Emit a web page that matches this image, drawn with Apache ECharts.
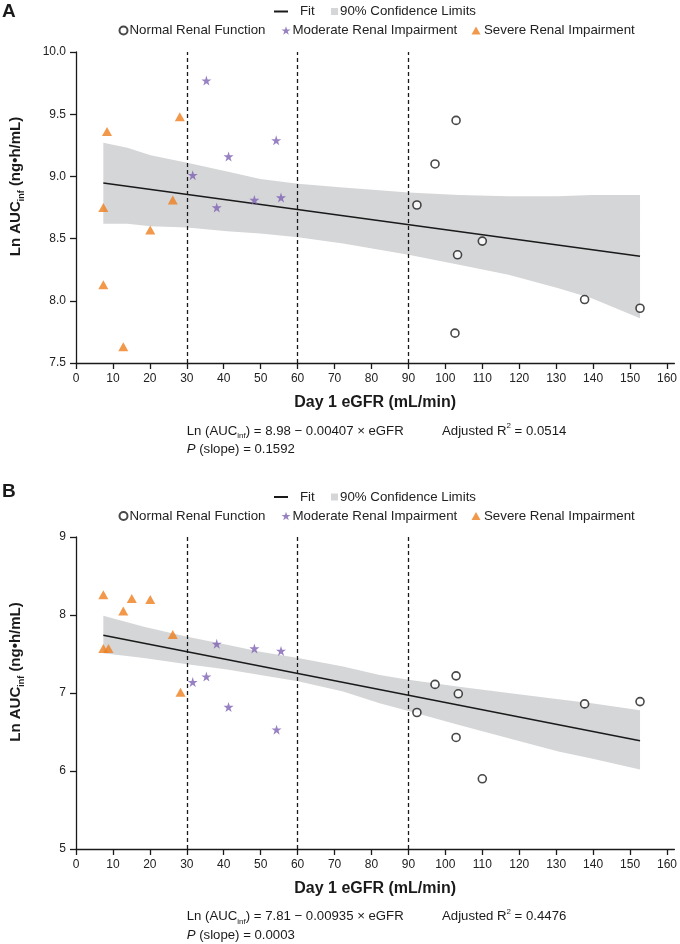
<!DOCTYPE html>
<html><head><meta charset="utf-8">
<script src="https://cdn.jsdelivr.net/npm/echarts@6/dist/echarts.min.js"></script>
<style>html,body{margin:0;padding:0;background:#fff}#c{width:680px;height:944px}</style>
</head><body><div id="c"></div>
<script>
// ---------- tick labels / reference lines ----------
const xTicks = [0,10,20,30,40,50,60,70,80,90,100,110,120,130,140,150,160];
const yTicksA = [7.5,8.0,8.5,9.0,9.5,10.0];
const yTicksB = [5,6,7,8,9];
const refLines = [30,60,90];

// ---------- Panel A data ----------
const normalA   = [[102.9,9.45],[97.2,9.10],[92.3,8.77],[110.0,8.48],[103.3,8.37],[137.7,8.01],[152.7,7.94],[102.6,7.74]];
const moderateA = [[35.3,9.77],[31.6,9.01],[38.1,8.75],[41.3,9.16],[48.3,8.81],[54.2,9.29],[55.5,8.83]];
const severeA   = [[7.4,8.75],[8.4,9.36],[7.4,8.13],[12.8,7.63],[20.1,8.57],[26.2,8.81],[28.1,9.48]];
const fitA      = [[7.4,8.947],[152.7,8.358]];
const ciXA      = [7.4,13.9,20.2,30.1,40.9,49.9,60.1,72.3,90,103.7,117.1,130.6,139.6,152.7];
const ciUpperA  = [9.27,9.23,9.17,9.11,9.04,8.98,8.94,8.91,8.87,8.85,8.84,8.84,8.85,8.85];
const ciLowerA  = [8.62,8.62,8.60,8.59,8.56,8.54,8.51,8.46,8.37,8.29,8.21,8.10,8.02,7.86];

// ---------- Panel B data ----------
const normalB   = [[102.9,7.22],[97.2,7.11],[103.5,6.99],[92.3,6.75],[137.7,6.86],[152.7,6.89],[102.9,6.43],[110.0,5.90]];
const moderateB = [[31.6,7.14],[35.3,7.21],[38.1,7.63],[41.3,6.82],[48.3,7.57],[54.3,6.53],[55.5,7.54]];
const severeB   = [[7.4,8.26],[7.4,7.57],[8.8,7.57],[12.8,8.05],[15.1,8.21],[20.1,8.20],[26.2,7.75],[28.3,7.01]];
const fitB      = [[7.4,7.741],[152.7,6.388]];
const ciXB      = [7.4,18.4,30.1,40.9,49.9,60.1,72.3,82.2,90,103.7,117.1,130.6,139.6,152.7];
const ciUpperB  = [7.99,7.85,7.72,7.62,7.53,7.45,7.34,7.23,7.17,7.08,7.00,6.92,6.87,6.78];
const ciLowerB  = [7.51,7.45,7.37,7.30,7.23,7.15,7.02,6.87,6.77,6.59,6.42,6.25,6.16,6.02];

// ---------- texts ----------
const eqA  = '{n|Ln (AUC}{s|inf}{n|) = 8.98 − 0.00407 × eGFR}';
const r2A  = '{n|Adjusted R}{p|2}{n| = 0.0514}';
const pA   = '{i|P}{n| (slope) = 0.1592}';
const eqB  = '{n|Ln (AUC}{s|inf}{n|) = 7.81 − 0.00935 × eGFR}';
const r2B  = '{n|Adjusted R}{p|2}{n| = 0.4476}';
const pB   = '{i|P}{n| (slope) = 0.0003}';
const xTitle = 'Day 1 eGFR (mL/min)';
const yTitle = '{b|Ln AUC}{s|inf}{b| (ng•h/mL)}';

const FF = 'Liberation Sans, Arial, Helvetica, sans-serif';
const INK = '#1a1a1a';
const BAND = '#D5D6D8';
const PURPLE = '#7D62B3';
const ORANGE = '#EE7E1E';
const STAR = 'path://M50,0 L61.2,34.5 L97.6,34.5 L68.2,55.9 L79.4,90.5 L50,69.1 L20.6,90.5 L31.8,55.9 L2.4,34.5 L38.8,34.5 Z';

const chart = echarts.init(document.getElementById('c'), null, {renderer:'canvas'});

function xAxisCfg(gi){
  return {
    gridIndex: gi, type:'value', min:0, max:162, interval:10,
    axisLine:{show:true, onZero:false, lineStyle:{color:INK, width:1.3}},
    axisTick:{show:true, length:6, customValues:xTicks, lineStyle:{color:INK, width:1.3}},
    axisLabel:{customValues:xTicks, margin:10, fontSize:12, color:'#222', fontFamily:FF},
    splitLine:{show:false},
    name:xTitle, nameLocation:'middle', nameGap:32,
    nameTextStyle:{fontSize:16, fontWeight:'bold', color:INK, fontFamily:FF}
  };
}
function yAxisCfg(gi, min, max, interval, ticks, dec){
  return {
    gridIndex: gi, type:'value', min:min, max:max, interval:interval,
    axisLine:{show:true, onZero:false, lineStyle:{color:INK, width:1.3}},
    axisTick:{show:true, length:6, customValues:ticks, lineStyle:{color:INK, width:1.3}},
    axisLabel:{customValues:ticks, margin:10, fontSize:12, color:'#222', fontFamily:FF,
               formatter: v => v.toFixed(dec)},
    splitLine:{show:false},
    name:yTitle, nameLocation:'middle', nameGap:50,
    nameTextStyle:{padding:[0,0,0,42],
      rich:{
        b:{fontSize:15, fontWeight:'bold', color:INK, fontFamily:FF, lineHeight:20},
        s:{fontSize:9, fontWeight:'bold', color:INK, fontFamily:FF, lineHeight:9, verticalAlign:'bottom'}
      }}
  };
}
function bandSeries(gi, xs, up, lo){
  return {
    type:'custom', name:'90% Confidence Limits', xAxisIndex:gi, yAxisIndex:gi, z:1, silent:true,
    itemStyle:{color:BAND},
    data: xs.map((x,i)=>[x, up[i], lo[i]]),
    encode:{x:0, y:[1,2]},
    renderItem:(params, api)=>{
      if (params.dataIndex !== 0) return null;
      const pts = [];
      for (let i=0;i<xs.length;i++) pts.push(api.coord([xs[i], up[i]]));
      for (let i=xs.length-1;i>=0;i--) pts.push(api.coord([xs[i], lo[i]]));
      return {type:'polygon', shape:{points:pts}, style:{fill:BAND}};
    }
  };
}
function fitSeries(gi, data){
  return {
    type:'line', name:'Fit', xAxisIndex:gi, yAxisIndex:gi, z:3, data:data,
    symbol:'none', silent:true, itemStyle:{color:INK}, lineStyle:{color:INK, width:1.6},
    markLine:{silent:true, symbol:['none','none'], label:{show:false},
      lineStyle:{color:INK, width:1.3, type:[4,3]},
      data: refLines.map(v=>({xAxis:v}))}
  };
}
function scatterSeries(gi, name, data, symbol, size, style){
  return {type:'scatter', name:name, xAxisIndex:gi, yAxisIndex:gi, z:4, data:data,
    symbol:symbol, symbolSize:size, itemStyle:style, silent:true};
}
function panelSeries(gi, normal, moderate, severe, fit, cx, cu, cl){
  return [
    bandSeries(gi, cx, cu, cl),
    fitSeries(gi, fit),
    scatterSeries(gi, 'Normal Renal Function', normal, 'circle', 8, {color:'#fff', borderColor:INK, borderWidth:1.6}),
    scatterSeries(gi, 'Moderate Renal Impairment', moderate, STAR, 10, {color:PURPLE}),
    scatterSeries(gi, 'Severe Renal Impairment', severe, 'triangle', [10,9], {color:ORANGE})
  ];
}
const legText = {fontSize:13.3, color:'#222', fontFamily:FF};
function legends(dy){
  const base = {padding:0, itemGap:0, selectedMode:false};
  return [
    Object.assign({}, base, {data:[{name:'Fit', icon:'rect'}], left:274, top:5+dy, itemWidth:14, itemHeight:2,
      textStyle:Object.assign({}, legText, {padding:[0,0,0,7]})}),
    Object.assign({}, base, {data:[{name:'90% Confidence Limits', icon:'rect'}], left:331, top:5+dy, itemWidth:7, itemHeight:7,
      textStyle:Object.assign({}, legText, {padding:[0,0,0,-3]})}),
    Object.assign({}, base, {data:[{name:'Normal Renal Function', icon:'circle'}], left:118.5, top:24+dy, itemWidth:8, itemHeight:8,
      textStyle:Object.assign({}, legText, {padding:[0,0,0,-3]})}),
    Object.assign({}, base, {data:[{name:'Moderate Renal Impairment', icon:STAR}], left:281.5, top:24+dy, itemWidth:9, itemHeight:9,
      textStyle:Object.assign({}, legText, {padding:[0,0,0,-3]})}),
    Object.assign({}, base, {data:[{name:'Severe Renal Impairment', icon:'triangle'}], left:471.5, top:24+dy, itemWidth:9, itemHeight:8,
      textStyle:Object.assign({}, legText, {padding:[0,0,0,-1.5]})})
  ];
}
const eqRich = {
  n:{fontSize:13.2, fontFamily:FF, fill:INK, color:INK, lineHeight:18},
  s:{fontSize:8, fontFamily:FF, fill:INK, color:INK, lineHeight:8, verticalAlign:'bottom'},
  p:{fontSize:8, fontFamily:FF, fill:INK, color:INK, lineHeight:12, verticalAlign:'top'},
  i:{fontSize:13.2, fontFamily:FF, fontStyle:'italic', fill:INK, color:INK, lineHeight:18}
};
function eqText(x, y, t){
  return {type:'text', x:x, y:y, silent:true, style:{text:t, rich:eqRich, verticalAlign:'middle', align:'left'}};
}

const option = {
  animation:false,
  backgroundColor:'#fff',
  grid:[
    {left:76, top:52, width:600, height:311},
    {left:76, top:537, width:600, height:312}
  ],
  xAxis:[xAxisCfg(0), xAxisCfg(1)],
  yAxis:[yAxisCfg(0, 7.5, 10, 0.5, yTicksA, 1), yAxisCfg(1, 5, 9, 1, yTicksB, 0)],
  legend: legends(0).concat(legends(485.5)),
  series: panelSeries(0, normalA, moderateA, severeA, fitA, ciXA, ciUpperA, ciLowerA)
    .concat(panelSeries(1, normalB, moderateB, severeB, fitB, ciXB, ciUpperB, ciLowerB)),
  graphic:[
    {type:'text', left:2, top:2, silent:true, style:{text:'A', font:'bold 19px '+FF, fill:INK}},
    {type:'text', left:2, top:482, silent:true, style:{text:'B', font:'bold 19px '+FF, fill:INK}},
    eqText(186.7, 431, eqA), eqText(442, 431, r2A), eqText(186.7, 449.5, pA),
    eqText(186.7, 916.7, eqB), eqText(442, 916.7, r2B), eqText(186.7, 935, pB)
  ]
};
chart.setOption(option);
</script>
</body></html>
